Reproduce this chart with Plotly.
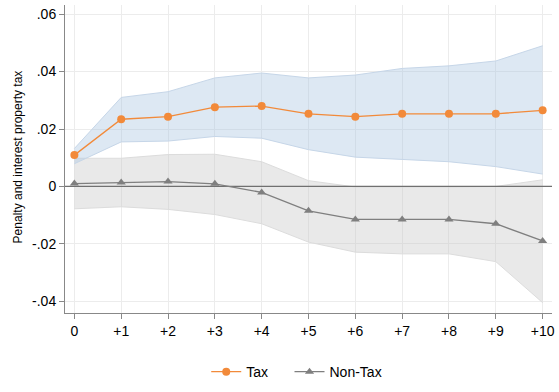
import plotly.graph_objects as go

x_vals = list(range(11))
x_labels = ["0", "+1", "+2", "+3", "+4", "+5", "+6", "+7", "+8", "+9", "+10"]

tax = [0.0109, 0.0234, 0.0243, 0.0276, 0.0280, 0.0253, 0.0243, 0.0253, 0.0253, 0.0253, 0.0265]
tax_hi = [0.0132, 0.0310, 0.0330, 0.0378, 0.0395, 0.0378, 0.0388, 0.0411, 0.0420, 0.0437, 0.0490]
tax_lo = [0.0079, 0.0155, 0.0158, 0.0174, 0.0168, 0.0128, 0.0102, 0.0095, 0.0086, 0.0069, 0.0043]

nontax = [0.0010, 0.0014, 0.0017, 0.0009, -0.0021, -0.0085, -0.0115, -0.0115, -0.0115, -0.0130, -0.0190]
nontax_hi = [0.0098, 0.0098, 0.0111, 0.0112, 0.0086, 0.0020, -0.0002, -0.0003, -0.0002, 0.0000, 0.0023]
nontax_lo = [-0.0078, -0.0071, -0.0080, -0.0098, -0.0130, -0.0194, -0.0229, -0.0235, -0.0235, -0.0262, -0.0405]

y_ticks = [0.06, 0.04, 0.02, 0.0, -0.02, -0.04]
y_tick_labels = [".06", ".04", ".02", "0", "-.02", "-.04"]

y_title = "Penalty and interest property tax"

x_range = [-0.2, 10.2]
y_range = [-0.0441, 0.0632]

ORANGE = "#F28A3A"
GRAY = "#7F7F7F"

fig = go.Figure()

# Non-tax band
fig.add_trace(go.Scatter(x=x_vals, y=nontax_hi, mode="lines",
                         line=dict(color="#dcdcdc", width=1), showlegend=False, hoverinfo="skip"))
fig.add_trace(go.Scatter(x=x_vals, y=nontax_lo, mode="lines", fill="tonexty",
                         fillcolor="rgba(200,200,200,0.40)",
                         line=dict(color="#dcdcdc", width=1), showlegend=False, hoverinfo="skip"))
# Tax band
fig.add_trace(go.Scatter(x=x_vals, y=tax_hi, mode="lines",
                         line=dict(color="#c6d6e8", width=1), showlegend=False, hoverinfo="skip"))
fig.add_trace(go.Scatter(x=x_vals, y=tax_lo, mode="lines", fill="tonexty",
                         fillcolor="rgba(170,198,226,0.40)",
                         line=dict(color="#c6d6e8", width=1), showlegend=False, hoverinfo="skip"))

# zero reference line
fig.add_trace(go.Scatter(x=x_range, y=[0, 0], mode="lines",
                         line=dict(color="#707070", width=1.2), showlegend=False, hoverinfo="skip"))

fig.add_trace(go.Scatter(x=x_vals, y=tax, mode="lines+markers", name="Tax",
                         line=dict(color=ORANGE, width=1.3),
                         marker=dict(symbol="circle", size=8, color=ORANGE),
                         legend="legend"))
fig.add_trace(go.Scatter(x=x_vals, y=nontax, mode="lines+markers", name="Non-Tax",
                         line=dict(color=GRAY, width=1.3),
                         marker=dict(symbol="triangle-up", size=8, color=GRAY),
                         legend="legend2"))

fig.update_layout(
    width=559, height=392,
    margin=dict(l=65, r=4, t=5, b=61),
    paper_bgcolor="white", plot_bgcolor="white",
    font=dict(family="Liberation Sans, Arial, sans-serif", size=13, color="black"),
    legend=dict(orientation="h", x=0.290, xanchor="left", y=-0.14, yanchor="top",
                font=dict(size=14)),
    legend2=dict(orientation="h", x=0.461, xanchor="left", y=-0.14, yanchor="top",
                 font=dict(size=14)),
    annotations=[dict(text=y_title, textangle=-90, xref="paper", yref="paper",
                      x=-0.096, y=0.506, xanchor="center", yanchor="middle",
                      showarrow=False, font=dict(size=12))],
)
fig.update_xaxes(range=x_range, tickmode="array", tickvals=x_vals, ticktext=x_labels,
                 showgrid=True, gridcolor="#ececec", gridwidth=1,
                 showline=True, linecolor="#888888", linewidth=1,
                 ticks="outside", ticklen=5, tickcolor="#888888",
                 tickfont=dict(size=14), zeroline=False)
fig.update_yaxes(range=y_range, tickmode="array", tickvals=y_ticks, ticktext=y_tick_labels,
                 showgrid=True, gridcolor="#ececec", gridwidth=1,
                 showline=True, linecolor="#888888", linewidth=1,
                 ticks="outside", ticklen=5, tickcolor="#888888",
                 tickfont=dict(size=14), zeroline=False)

fig.write_html("out.html")
